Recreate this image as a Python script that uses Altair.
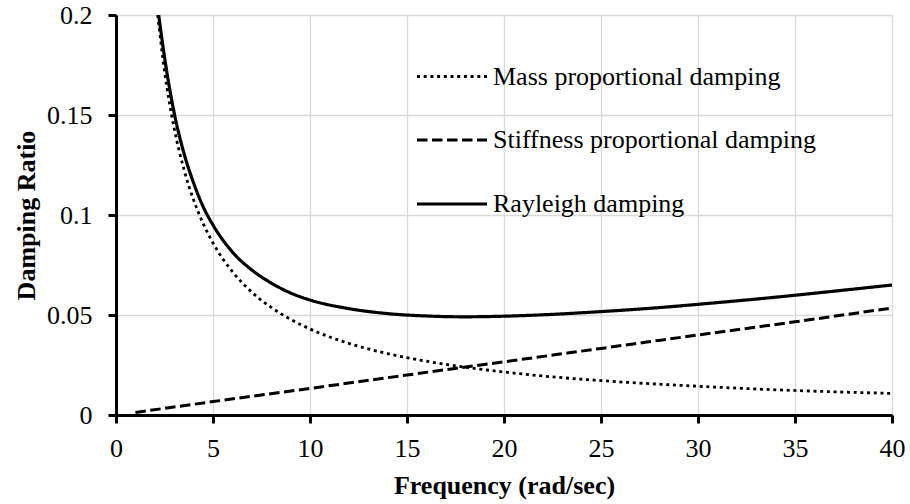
import altair as alt
import pandas as pd

# ---- data ----
mass_x = [2.15, 2.5, 3, 3.5, 4, 4.5, 5, 6, 7, 8, 9, 10, 12, 14, 16, 18, 20, 22, 25, 28, 31, 34, 37, 40]
mass_y = [0.200, 0.172, 0.1433, 0.1229, 0.1075, 0.0956, 0.086, 0.0717, 0.0614, 0.0538, 0.0478, 0.043,
          0.0358, 0.0307, 0.0269, 0.0239, 0.0215, 0.0195, 0.0172, 0.0154, 0.0139, 0.0126, 0.0116, 0.0108]

stiff_x = [1, 5, 10, 15, 20, 25, 30, 35, 40]
stiff_y = [0.0013, 0.0067, 0.0133, 0.0200, 0.0266, 0.0333, 0.0400, 0.0466, 0.0535]

ray_x = [2.2, 2.5, 3, 3.5, 4, 4.5, 5, 6, 7, 8, 9, 10, 12, 14, 16, 18, 20, 22, 25, 28, 31, 34, 37, 40]
ray_y = [0.200, 0.179, 0.151, 0.131, 0.116, 0.104, 0.095, 0.0815, 0.0725, 0.066, 0.061, 0.0575,
         0.0532, 0.0507, 0.0495, 0.0491, 0.0494, 0.0501, 0.0517, 0.0537, 0.0562, 0.0589, 0.0619, 0.065]

series_names = ["Mass proportional damping", "Stiffness proportional damping", "Rayleigh damping"]
x_ticks = [0, 5, 10, 15, 20, 25, 30, 35, 40]
y_ticks = [0, 0.05, 0.1, 0.15, 0.2]

rows = []
for name, xs, ys in zip(series_names, [mass_x, stiff_x, ray_x], [mass_y, stiff_y, ray_y]):
    for i, (xv, yv) in enumerate(zip(xs, ys)):
        rows.append({"series": name, "freq": xv, "ratio": yv, "order": i})
df = pd.DataFrame(rows)

FONT = "Liberation Serif"

legend_cfg = dict(title=None, orient="none", legendX=299, legendY=25,
                  symbolType="stroke", symbolSize=4900,
                  symbolStrokeColor="black", symbolFillColor="transparent",
                  labelFont=FONT, labelFontSize=26, labelColor="black",
                  labelOffset=4, rowPadding=13.5, labelLimit=500)

chart = alt.Chart(df).mark_line(interpolate="monotone", color="black", strokeCap="butt", clip=True).encode(
    x=alt.X("freq:Q",
            scale=alt.Scale(domain=[0, 40], nice=False, zero=False),
            axis=alt.Axis(values=x_ticks, title="Frequency (rad/sec)", format="~g", labelFlush=False,
                          titleY=78, titleBaseline="alphabetic", titleX=388, titleAlign="center")),
    y=alt.Y("ratio:Q",
            scale=alt.Scale(domain=[0, 0.2], nice=False),
            axis=alt.Axis(values=y_ticks, title="Damping Ratio", format="~g", labelFlush=False,
                          titleX=-90, titleY=200, titleAlign="center", titleBaseline="middle", titleAngle=270)),
    strokeDash=alt.StrokeDash("series:N",
                              scale=alt.Scale(domain=series_names, range=[[3, 3.7], [10.5, 4.5], [1, 0]]),
                              legend=alt.Legend(**legend_cfg)),
    strokeWidth=alt.StrokeWidth("series:N",
                                scale=alt.Scale(domain=series_names, range=[2.8, 3.2, 3.2]),
                                legend=alt.Legend(**legend_cfg)),
    order="order:Q",
).properties(
    width=776, height=400,
    padding={"left": 116, "top": 15, "right": 18, "bottom": 89},
    autosize="none",
).configure_view(
    stroke=None
).configure_axis(
    labelFont=FONT, labelFontSize=26, labelColor="black",
    titleFont=FONT, titleFontSize=26, titleFontWeight="bold", titleColor="black",
    domainColor="black", domainWidth=3, tickColor="black", tickWidth=3, tickSize=8,
    gridColor="#d9d9d9", gridWidth=1.3, labelPadding=15,
).configure_axisX(
    labelPadding=12
).configure_axisY(
    labelPadding=16
)

chart.save("out.html", embed_options={"renderer": "svg", "actions": False})
